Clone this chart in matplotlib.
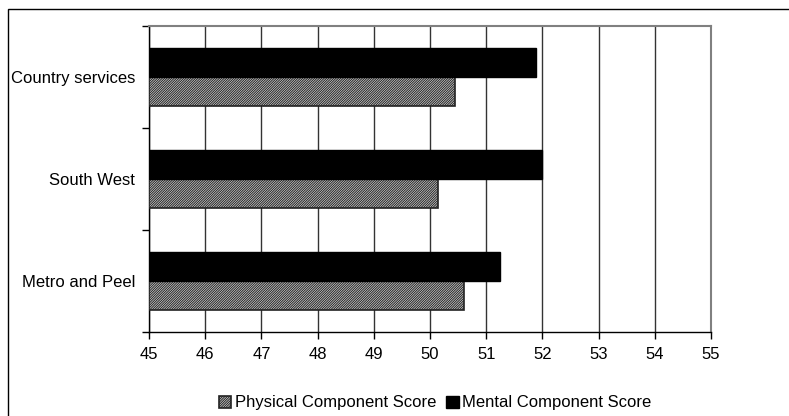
import numpy as np
import matplotlib.pyplot as plt
from matplotlib.patches import Rectangle

plt.rcParams['font.family'] = ['Liberation Sans', 'DejaVu Sans']
plt.rcParams['hatch.linewidth'] = 0.7

regions = ['Metro and Peel', 'South West', 'Country services']
physical = [50.6, 50.15, 50.45]
mental = [51.25, 52.0, 51.88]

fig = plt.figure(figsize=(7.89, 4.16), dpi=100)
ax = fig.add_axes([149 / 789, 1 - 332 / 416, (711 - 149) / 789, (332 - 26) / 416])

# outer chart border (right and bottom edges fall outside the image)
fig.add_artist(Rectangle((8 / 789, -0.1), 1.1, 1 - 9 / 416 + 0.1, transform=fig.transFigure,
                         fill=False, edgecolor='black', linewidth=1))

y = np.arange(len(regions))
h = 0.285
ax.barh(y - h / 2, [p - 45 for p in physical], height=h, left=45, color='#d8d8d8',
        edgecolor='#222222', hatch='//////////////', linewidth=1.2, label='Physical Component Score', zorder=3)
ax.barh(y + h / 2, [m - 45 for m in mental], height=h, left=45, color='black',
        edgecolor='black', linewidth=1, label='Mental Component Score', zorder=3)

ax.set_xlim(45, 55)
ax.set_ylim(-0.5, 2.5)
ax.set_xticks(range(45, 56))
ax.set_yticks(y)
ax.set_yticklabels(regions)
ax.set_yticks([0.5, 1.5, 2.5, -0.5], minor=True)
ax.tick_params(axis='y', which='major', length=0, pad=10, labelsize=12)
ax.tick_params(axis='y', which='minor', length=5, direction='out', width=1)
ax.tick_params(axis='x', length=5, direction='out', width=1, labelsize=12, pad=6)
ax.grid(axis='x', color='#333333', linewidth=1, zorder=0)

for s in ['top', 'right']:
    ax.spines[s].set_color('#808080')
    ax.spines[s].set_linewidth(1.5)
for s in ['left', 'bottom']:
    ax.spines[s].set_color('black')
    ax.spines[s].set_linewidth(1)

fig.legend(loc='center', bbox_to_anchor=(435 / 789, 1 - 403 / 416), ncol=2, frameon=False,
           fontsize=12, handlelength=0.75, handleheight=0.75, handletextpad=0.2, columnspacing=0.6)

fig.savefig('out.png', dpi=100)
